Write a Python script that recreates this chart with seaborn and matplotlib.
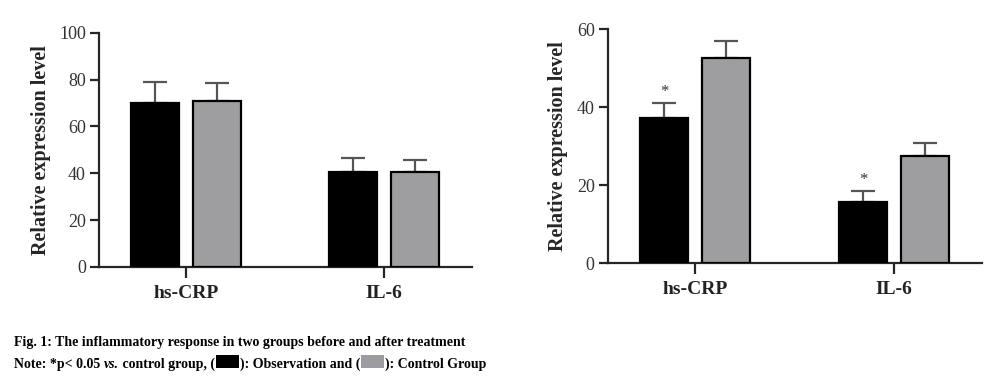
import pandas as pd
import matplotlib.pyplot as plt
import matplotlib.patches as mpatches
import seaborn as sns

# values
markers = ['hs-CRP', 'IL-6']
groups = ['Observation', 'Control']

before_obs = [70.0, 40.6]
before_ctrl = [71.0, 40.5]
before_obs_sd = [9.0, 6.1]
before_ctrl_sd = [7.6, 5.2]

after_obs = [37.2, 15.6]
after_ctrl = [52.7, 27.5]
after_obs_sd = [3.8, 2.9]
after_ctrl_sd = [4.2, 3.2]

stars = ['*', '*']  # significance marks on the observation bars (after)

colors = {'Observation': '#000000', 'Control': '#9d9da1'}

sns.set_style('ticks')
plt.rcParams['font.family'] = ['Liberation Serif', 'DejaVu Serif']

fig = plt.figure(figsize=(9.9, 3.77), dpi=100)
ax1 = fig.add_axes([0.100, 0.292, 0.377, 0.621])
ax2 = fig.add_axes([0.614, 0.302, 0.378, 0.621])


def draw_panel(ax, obs, ctrl, obs_sd, ctrl_sd, ymax, step, marks=None):
    df = pd.DataFrame({
        'marker': markers * 2,
        'group': [groups[0]] * len(markers) + [groups[1]] * len(markers),
        'value': obs + ctrl,
        'sd': obs_sd + ctrl_sd,
    })
    sns.barplot(data=df, x='marker', y='value', hue='group', hue_order=groups,
                palette=colors, width=0.62, gap=0.22, errorbar=None,
                edgecolor='black', linewidth=1.6, legend=False, zorder=3, ax=ax)

    # upper error bars, centred on the bars seaborn drew
    bars = [p for p in ax.patches]
    for bar, (_, row) in zip(bars, df.iterrows()):
        cx = bar.get_x() + bar.get_width() / 2
        ax.errorbar(cx, row['value'], yerr=[[0], [row['sd']]], fmt='none',
                    ecolor='#555555', elinewidth=1.6, capsize=8.5, capthick=1.6,
                    zorder=2)
        if marks is not None and row['group'] == 'Observation':
            ax.text(cx, row['value'] + row['sd'] + ymax * 0.012, marks[markers.index(row['marker'])],
                    ha='center', va='bottom', fontsize=12, color='#333333')

    ax.set_ylim(0, ymax)
    ax.set_yticks(range(0, ymax + 1, step))
    ax.set_xlim(-0.44, 1.445)
    ax.set_xlabel('')
    ax.set_ylabel('Relative expression level', fontsize=14.5, fontweight='bold', labelpad=6)
    sns.despine(ax=ax)
    for s in ['left', 'bottom']:
        ax.spines[s].set_linewidth(1.6)
    ax.tick_params(axis='y', length=6.5, width=1.6, labelsize=13, labelcolor='#333333', pad=3)
    ax.tick_params(axis='x', length=8, width=1.6, labelsize=14, pad=5)
    for lab in ax.get_xticklabels():
        lab.set_fontweight('bold')
        lab.set_color('#222222')


draw_panel(ax1, before_obs, before_ctrl, before_obs_sd, before_ctrl_sd, 100, 20)
draw_panel(ax2, after_obs, after_ctrl, after_obs_sd, after_ctrl_sd, 60, 20, marks=stars)

# caption
cap_kw = dict(fontsize=10, fontweight='bold', va='baseline', color='black')
fig.text(0.014, 0.083, 'Fig. 1: The inflammatory response in two groups before and after treatment', **cap_kw)

renderer = fig.canvas.get_renderer()
x = 0.014
y = 0.025
pieces = [('Note: *p< 0.05 ', 'normal'), ('vs.', 'italic'), (' control group, (', 'normal'),
          ('#box#000000', None), ('): Observation and (', 'normal'),
          ('#box#9d9da1', None), ('): Control Group', 'normal')]
for txt, style in pieces:
    if txt.startswith('#box'):
        w = 23 / 990
        h = 13 / 377
        fig.patches.append(mpatches.Rectangle((x + 0.001, y - 0.002), w, h, transform=fig.transFigure,
                                              facecolor=txt[4:], edgecolor='none'))
        x += w + 0.002
        continue
    t = fig.text(x, y, txt, style=style, **cap_kw)
    bb = t.get_window_extent(renderer)
    x += bb.width / fig.bbox.width

fig.savefig('out.png', dpi=100)
